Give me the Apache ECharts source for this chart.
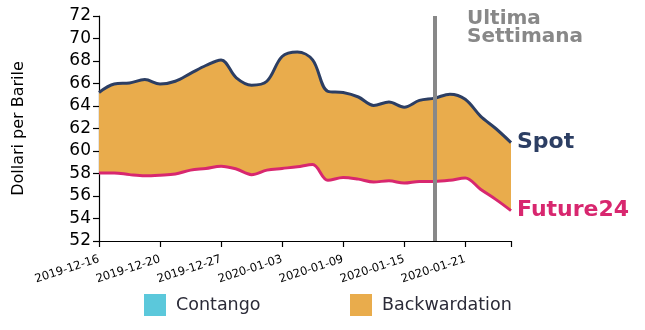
<!DOCTYPE html>
<html>
<head>
<meta charset="utf-8">
<style>
  html, body { margin: 0; padding: 0; background: #ffffff; }
  #chart { width: 645px; height: 330px; }
</style>
<script src="https://cdn.jsdelivr.net/npm/echarts@6/dist/echarts.min.js"></script>
</head>
<body>
<div id="chart"></div>
<script>
const dates = ['2019-12-16','2019-12-17','2019-12-18','2019-12-19','2019-12-20','2019-12-23','2019-12-24','2019-12-26','2019-12-27','2019-12-30','2019-12-31','2020-01-02','2020-01-03','2020-01-06','2020-01-07','2020-01-08','2020-01-09','2020-01-10','2020-01-13','2020-01-14','2020-01-15','2020-01-16','2020-01-17','2020-01-20','2020-01-21','2020-01-22','2020-01-23','2020-01-24'];
const spot = [65.2, 65.95, 66.05, 66.35, 65.95, 66.2, 66.9, 67.6, 68.1, 66.5, 65.85, 66.2, 68.4, 68.8, 68.1, 65.3, 65.2, 64.8, 64.05, 64.35, 63.9, 64.5, 64.7, 65.05, 64.6, 63.1, 62.0, 60.75];
const future24 = [58.05, 58.05, 57.9, 57.8, 57.85, 57.95, 58.3, 58.45, 58.65, 58.4, 57.9, 58.3, 58.45, 58.6, 58.8, 57.4, 57.65, 57.5, 57.25, 57.35, 57.15, 57.3, 57.3, 57.4, 57.6, 56.6, 55.7, 54.7];
const yTicks = [52, 54, 56, 58, 60, 62, 64, 66, 68, 70, 72];
const lastWeekStart = '2020-01-17';
const legendItems = ['Contango', 'Backwardation'];

const FONT = 'DejaVu Sans';
const C_SPOT = '#2c3e63';
const C_FUT = '#d8276f';
const C_BACK = '#e9ac4c';
const C_CONT = '#5bc8db';
const C_GREY = '#888888';

const spread = spot.map((v, i) => +(v - future24[i]).toFixed(3));
const SMOOTH = 0.35;

const chart = echarts.init(document.getElementById('chart'), null, { renderer: 'canvas' });
chart.setOption({
  animation: false,
  textStyle: { fontFamily: FONT },
  grid: { left: 99, right: 134, top: 16, bottom: 89, outerBoundsMode: 'none' },
  legend: [
    {
      data: [legendItems[0]], left: 144, top: 294, icon: 'rect', padding: 0,
      itemWidth: 22, itemHeight: 22,
      textStyle: { fontFamily: FONT, fontSize: 17.5, color: '#2b2b38', padding: [0, 0, 0, 5] }
    },
    {
      data: [legendItems[1]], left: 350, top: 294, icon: 'rect', padding: 0,
      itemWidth: 22, itemHeight: 22,
      textStyle: { fontFamily: FONT, fontSize: 17.5, color: '#2b2b38', padding: [0, 0, 0, 5] }
    }
  ],
  xAxis: {
    type: 'category',
    data: dates,
    boundaryGap: false,
    axisLine: { lineStyle: { color: '#000', width: 1.2 } },
    axisTick: {
      show: true, length: 6, lineStyle: { color: '#000', width: 1.2 },
      interval: (i) => i % 4 === 0 || i === dates.length - 1
    },
    axisLabel: {
      interval: (i) => i % 4 === 0,
      rotate: 18, margin: 18,
      fontFamily: FONT, fontSize: 11.5, color: '#000'
    },
    splitLine: { show: false }
  },
  yAxis: {
    type: 'value',
    min: yTicks[0], max: yTicks[yTicks.length - 1], interval: yTicks[1] - yTicks[0],
    name: 'Dollari per Barile',
    nameLocation: 'middle', nameGap: 72,
    nameTextStyle: { fontFamily: FONT, fontSize: 16, color: '#000' },
    axisLine: { show: true, lineStyle: { color: '#000', width: 1.2 } },
    axisTick: { show: true, length: 6, lineStyle: { color: '#000', width: 1.2 } },
    axisLabel: { fontFamily: FONT, fontSize: 17, color: '#000', margin: 8 },
    splitLine: { show: false }
  },
  graphic: [
    {
      type: 'text', left: 467, top: 9,
      style: {
        text: 'Ultima\nSettimana', fill: C_GREY,
        font: 'bold 20px "DejaVu Sans"', lineHeight: 18
      }
    }
  ],
  series: [
    {
      name: 'base', type: 'line', stack: 'band', data: future24,
      smooth: SMOOTH, symbol: 'none', silent: true,
      lineStyle: { width: 0, opacity: 0 }
    },
    {
      name: 'Backwardation', type: 'line', stack: 'band', data: spread,
      smooth: SMOOTH, symbol: 'none', silent: true,
      itemStyle: { color: C_BACK },
      lineStyle: { width: 0, opacity: 0 },
      areaStyle: { color: C_BACK, opacity: 1 }
    },
    {
      name: 'Contango', type: 'line', data: [],
      itemStyle: { color: C_CONT }
    },
    {
      name: 'Spot', type: 'line', data: spot, z: 5,
      smooth: SMOOTH, symbol: 'none',
      itemStyle: { color: C_SPOT },
      lineStyle: { color: C_SPOT, width: 3 },
      endLabel: {
        show: true, formatter: 'Spot', distance: 6,
        fontFamily: FONT, fontSize: 22, fontWeight: 'bold', color: C_SPOT
      }
    },
    {
      name: 'Future24', type: 'line', data: future24, z: 5,
      smooth: SMOOTH, symbol: 'none',
      itemStyle: { color: C_FUT },
      lineStyle: { color: C_FUT, width: 3 },
      endLabel: {
        show: true, formatter: 'Future24', distance: 6,
        fontFamily: FONT, fontSize: 22, fontWeight: 'bold', color: C_FUT
      },
      markLine: {
        silent: true, symbol: 'none', z: 10,
        label: { show: false },
        lineStyle: { color: C_GREY, width: 4, type: 'solid' },
        data: [{ xAxis: lastWeekStart }]
      }
    }
  ]
});
</script>
</body>
</html>
